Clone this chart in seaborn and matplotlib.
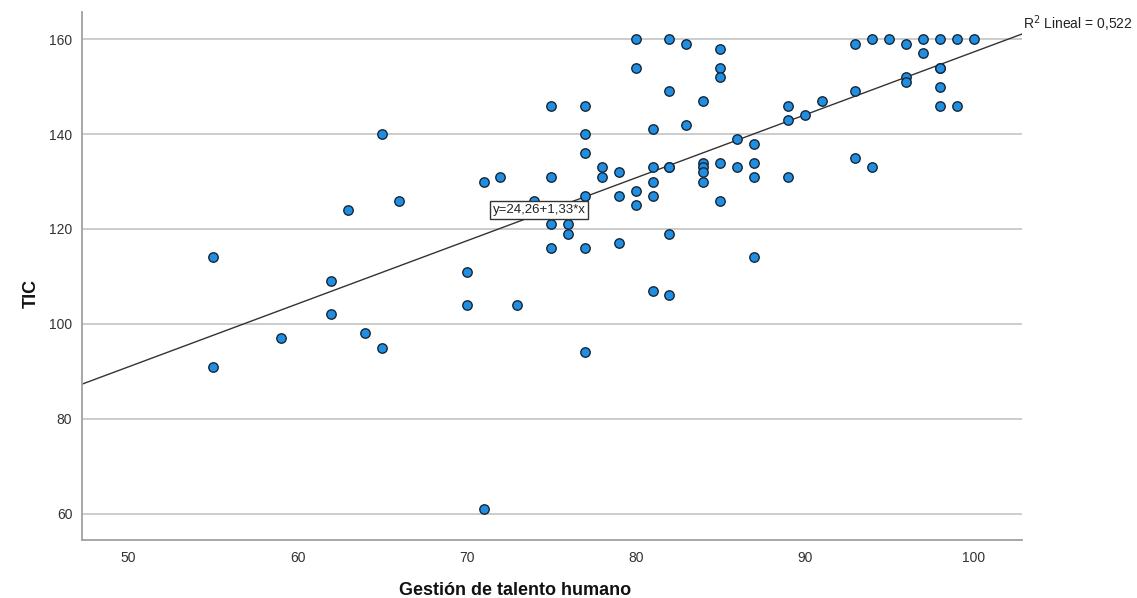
import numpy as np
import pandas as pd
import matplotlib
matplotlib.use("Agg")
import matplotlib.pyplot as plt
import seaborn as sns

# Data
gestion = [55, 55, 59, 62, 62, 63, 64, 65, 65, 66,
           70, 70, 71, 71, 72, 73, 74, 75, 75, 75,
           75, 76, 76, 77, 77, 77, 77, 77, 77, 78,
           78, 79, 79, 79, 80, 80, 80, 80, 81, 81,
           81, 81, 81, 82, 82, 82, 82, 82, 82, 83,
           83, 84, 84, 84, 84, 84, 85, 85, 85, 85,
           85, 86, 86, 87, 87, 87, 87, 89, 89, 89,
           90, 91, 93, 93, 93, 94, 94, 95, 96, 96,
           96, 97, 97, 98, 98, 98, 98, 98, 99, 99, 100]
tic = [114, 91, 97, 109, 102, 124, 98, 140, 95, 126,
       111, 104, 130, 61, 131, 104, 126, 146, 131, 121,
       116, 121, 119, 146, 140, 136, 127, 116, 94, 133,
       131, 132, 127, 117, 160, 154, 128, 125, 141, 133,
       130, 127, 107, 160, 149, 133, 133, 119, 106, 159,
       142, 147, 134, 133, 132, 130, 158, 154, 152, 134,
       126, 139, 133, 138, 134, 131, 114, 146, 143, 131,
       144, 147, 159, 149, 135, 160, 133, 160, 159, 152,
       151, 160, 157, 160, 154, 154, 150, 146, 160, 146, 160]

eq_label = "y=24,26+1,33*x"
r2_label = r"R$^2$ Lineal = 0,522"
x_title = "Gestión de talento humano"
y_title = "TIC"
x_ticks = [50, 60, 70, 80, 90, 100]
y_ticks = [60, 80, 100, 120, 140, 160]

df = pd.DataFrame({x_title: gestion, y_title: tic})

sns.set_theme(style="white")
plt.rcParams['font.family'] = ['Liberation Sans', 'DejaVu Sans']

fig = plt.figure(figsize=(11.37, 5.98), dpi=100)
ax = fig.add_axes([82/1137, 58/598, 940/1137, 528/598])

ax.set_xlim(47.24, 102.86)
ax.set_ylim(54.5, 165.7)
ax.set_yticks(y_ticks)
ax.set_xticks(x_ticks)
ax.yaxis.grid(True, color="#c8c8c8", linewidth=1.3)
ax.xaxis.grid(False)
ax.set_axisbelow(True)

sns.regplot(data=df, x=x_title, y=y_title, ax=ax, ci=None, truncate=False,
            scatter_kws=dict(s=46, color="#1e8fe3", edgecolor="#1a2533",
                             linewidths=1.0, alpha=1, zorder=3),
            line_kws=dict(color="#333333", linewidth=1.0, zorder=2))

for side in ["top", "right"]:
    ax.spines[side].set_visible(False)
for side in ["left", "bottom"]:
    ax.spines[side].set_color("#a0a0a0")
    ax.spines[side].set_linewidth(1.3)

ax.tick_params(axis="both", length=0, labelsize=10, labelcolor="#333333")
ax.tick_params(axis="y", pad=7)
ax.tick_params(axis="x", pad=8)

ax.set_xlabel(x_title, fontsize=13, fontweight="bold", color="#111111")
ax.set_ylabel(y_title, fontsize=13, fontweight="bold", color="#111111")
ax.xaxis.set_label_coords((515 - 82) / 940, (540 - 582) / 528)
ax.yaxis.set_label_coords((40 - 82) / 940, (540 - 293) / 528)

ax.text(74.3, 124.0, eq_label, fontsize=9.5, color="#222222",
        ha="center", va="center", zorder=5,
        bbox=dict(boxstyle="square,pad=0.2", facecolor="white",
                  edgecolor="#333333", linewidth=1.0))
ax.text(1.001, 0.977, r2_label, transform=ax.transAxes, fontsize=10,
        color="#222222", ha="left", va="center", clip_on=False)

fig.savefig("out.png", dpi=100, facecolor="white")
